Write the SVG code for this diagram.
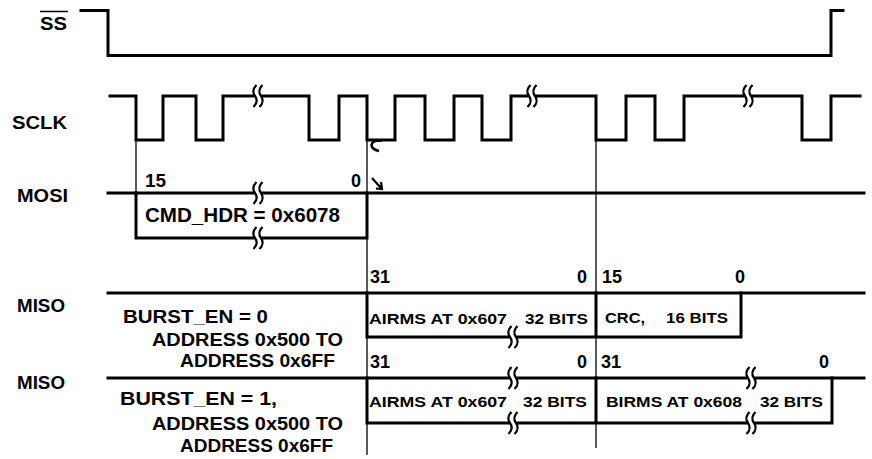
<svg xmlns="http://www.w3.org/2000/svg" xmlns:xlink="http://www.w3.org/1999/xlink" width="872" height="459" viewBox="0 0 872 459">
<style>
.sig{fill:none;stroke:#000;stroke-width:3;stroke-linejoin:miter;stroke-linecap:square}
.thin{fill:none;stroke:#000;stroke-width:1.3}
.t{font-family:"Liberation Sans",Arial,sans-serif;font-weight:bold;font-size:18px;fill:#000}
.s{font-size:15px}
.m{font-size:20px}
.b{fill:none;stroke:#000;stroke-width:2.2}
</style>
<defs>
<g id="brk">
<rect x="-3.5" y="-3" width="7" height="6" fill="#fff"/>
<path class="b" d="M-1.5,-11 Q-7,-5.5 -3,0 Q1,5.5 -4.5,11"/>
<path class="b" d="M4.5,-11 Q-1,-5.5 3,0 Q7,5.5 1.5,11"/>
</g>
</defs>
<rect width="872" height="459" fill="#fff"/>
<g id="labels">
<text class="t" x="40" y="30" textLength="27" lengthAdjust="spacingAndGlyphs">SS</text>
<line x1="40" y1="11.5" x2="68" y2="11.5" stroke="#000" stroke-width="1.5"/>
<text class="t" x="12" y="129" textLength="55" lengthAdjust="spacingAndGlyphs">SCLK</text>
<text class="t" x="17" y="202" textLength="51" lengthAdjust="spacingAndGlyphs">MOSI</text>
<text class="t" x="17" y="312" textLength="48" lengthAdjust="spacingAndGlyphs">MISO</text>
<text class="t" x="17" y="389" textLength="48" lengthAdjust="spacingAndGlyphs">MISO</text>
<text class="t" x="123" y="323" textLength="145" lengthAdjust="spacingAndGlyphs">BURST_EN = 0</text>
<text class="t" x="152" y="346" textLength="191" lengthAdjust="spacingAndGlyphs">ADDRESS 0x500 TO</text>
<text class="t" x="180" y="367" textLength="155" lengthAdjust="spacingAndGlyphs">ADDRESS 0x6FF</text>
<text class="t" x="120" y="405" textLength="157" lengthAdjust="spacingAndGlyphs">BURST_EN = 1,</text>
<text class="t" x="152" y="430" textLength="191" lengthAdjust="spacingAndGlyphs">ADDRESS 0x500 TO</text>
<text class="t" x="180" y="452" textLength="153" lengthAdjust="spacingAndGlyphs">ADDRESS 0x6FF</text>
</g>
<g id="connectors">
<path class="sig" d="M81,10.5 H108 V55.5 H831 V10.5 H843"/>
<path class="sig" d="M110,96 H136 V140 H163 V96 H196 V140 H223 V96 H309 V140 H339 V96 H367 V140 H395 V96 H425 V140 H454 V96 H482 V140 H511 V96 H596 V140 H626 V96 H655 V140 H684 V96 H802 V140 H831 V96 H860"/>
<line class="thin" x1="136" y1="140" x2="136" y2="193"/>
<line class="thin" x1="367" y1="140" x2="367" y2="455"/>
<line class="thin" x1="596" y1="140" x2="596" y2="448"/>
<path class="sig" d="M108,193 H864"/>
<path class="sig" d="M108,293 H864"/>
<path class="sig" d="M108,378 H864"/>
<path fill="none" stroke="#000" stroke-width="2.5" d="M382,140.5 Q372,140 371.5,145 Q372,149.5 379,151"/>
<path fill="none" stroke="#000" stroke-width="2.2" d="M372,178 L381,188 M381,182 L382,189 L376,188.5"/>
</g>
<g id="mosi_box">
<path class="sig" d="M136,193 V238 H367 V193"/>
<text class="t" x="145" y="187" textLength="21" lengthAdjust="spacingAndGlyphs">15</text>
<text class="t" x="351" y="187">0</text>
<text class="t m" x="145" y="222" textLength="195" lengthAdjust="spacingAndGlyphs">CMD_HDR = 0x6078</text>
</g>
<g id="miso1_box">
<path class="sig" d="M367,293 V337 H741 V293 M596,293 V337"/>
<text class="t" x="370" y="283">31</text>
<text class="t" x="577" y="283">0</text>
<text class="t" x="602" y="283">15</text>
<text class="t" x="735" y="283">0</text>
<text class="t s" x="369" y="324" textLength="138" lengthAdjust="spacingAndGlyphs">AIRMS AT 0x607</text>
<text class="t s" x="525" y="324" textLength="63" lengthAdjust="spacingAndGlyphs">32 BITS</text>
<text class="t s" x="605" y="323" textLength="40" lengthAdjust="spacingAndGlyphs">CRC,</text>
<text class="t s" x="666" y="323" textLength="62" lengthAdjust="spacingAndGlyphs">16 BITS</text>
</g>
<g id="miso2_box">
<path class="sig" d="M367,378 V423 H832 V378 M596,378 V423"/>
<text class="t" x="370" y="368">31</text>
<text class="t" x="577" y="368">0</text>
<text class="t" x="601" y="368">31</text>
<text class="t" x="819" y="368">0</text>
<text class="t s" x="369" y="407" textLength="138" lengthAdjust="spacingAndGlyphs">AIRMS AT 0x607</text>
<text class="t s" x="523" y="407" textLength="64" lengthAdjust="spacingAndGlyphs">32 BITS</text>
<text class="t s" x="606" y="407" textLength="136" lengthAdjust="spacingAndGlyphs">BIRMS AT 0x608</text>
<text class="t s" x="760" y="407" textLength="63" lengthAdjust="spacingAndGlyphs">32 BITS</text>
</g>
<g id="breaks">
<use xlink:href="#brk" x="258" y="96"/>
<use xlink:href="#brk" x="532" y="96"/>
<use xlink:href="#brk" x="748" y="96"/>
<use xlink:href="#brk" x="258" y="193"/>
<use xlink:href="#brk" x="258" y="238"/>
<use xlink:href="#brk" x="513" y="337"/>
<use xlink:href="#brk" x="513" y="378"/>
<use xlink:href="#brk" x="513" y="423"/>
<use xlink:href="#brk" x="751" y="378"/>
<use xlink:href="#brk" x="751" y="423"/>
</g>
</svg>
